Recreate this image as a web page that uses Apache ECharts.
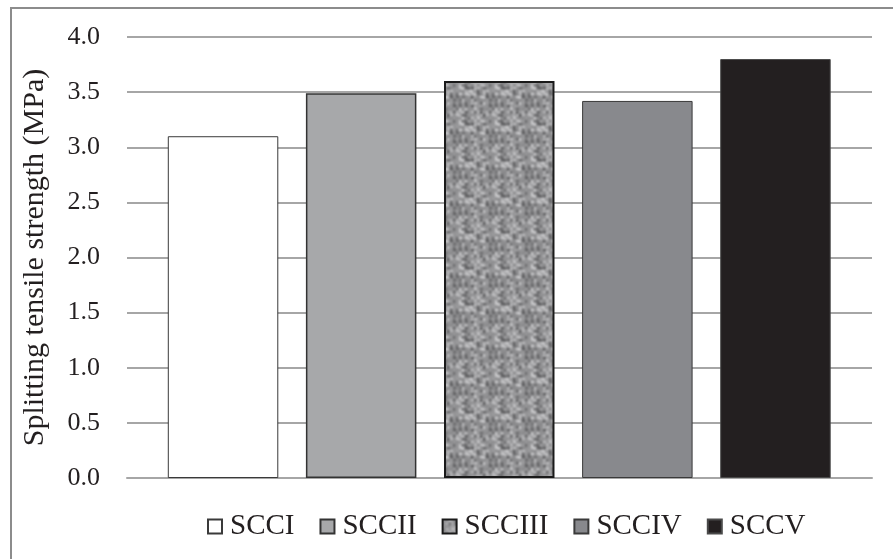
<!DOCTYPE html>
<html>
<head>
<meta charset="utf-8">
<script src="https://cdn.jsdelivr.net/npm/echarts@6/dist/echarts.min.js"></script>
<style>
  html, body { margin: 0; padding: 0; background: #fff; }
  #chart { width: 893px; height: 559px; }
</style>
</head>
<body>
<div id="chart"></div>
<script>
// Mixes and their splitting tensile strength (MPa)
var mixes = ['SCCI', 'SCCII', 'SCCIII', 'SCCIV', 'SCCV'];
var strength = [3.10, 3.49, 3.60, 3.42, 3.80];
var yTicks = [0, 0.5, 1.0, 1.5, 2.0, 2.5, 3.0, 3.5, 4.0];

var FONT = "'Liberation Serif', 'Times New Roman', serif";
var TEXT = '#231f20';

// Woven grey texture for the third mix (deterministic tile, softened)
function weaveTile() {
  var size = 36;
  var raw = document.createElement('canvas');
  raw.width = size; raw.height = size;
  var ctx = raw.getContext('2d');
  ctx.fillStyle = '#909092';
  ctx.fillRect(0, 0, size, size);
  var seed = 11;
  function next() { seed = (seed * 1103515245 + 12345) & 0x7fffffff; return seed / 0x7fffffff; }
  for (var y = 0; y < size; y += 3) {
    for (var x = 0; x < size; x += 3) {
      var v = next();
      var horiz = (((x / 3) | 0) + ((y / 3) | 0)) % 2 === 0;
      var shade;
      if (v < 0.25) shade = 80 + Math.floor(next() * 30);
      else if (v < 0.55) shade = 180 + Math.floor(next() * 35);
      else shade = 135 + Math.floor(next() * 25);
      ctx.fillStyle = 'rgb(' + shade + ',' + shade + ',' + (shade + 2) + ')';
      if (horiz) ctx.fillRect(x, y, 5, 2); else ctx.fillRect(x, y, 2, 5);
    }
  }
  // tile 3x3 then blur the centre so the edges wrap smoothly
  var big = document.createElement('canvas');
  big.width = size * 3; big.height = size * 3;
  var bctx = big.getContext('2d');
  for (var i = 0; i < 3; i++) for (var j = 0; j < 3; j++) bctx.drawImage(raw, i * size, j * size);
  var out = document.createElement('canvas');
  out.width = size; out.height = size;
  var octx = out.getContext('2d');
  octx.filter = 'blur(0.9px)';
  octx.drawImage(big, -size, -size);
  return out;
}

var fills = ['#ffffff', '#a7a8aa', { image: weaveTile(), repeat: 'repeat' }, '#88898d', '#231f20'];
var borders = ['#3a3a3a', '#333333', '#1a1a1a', '#3a3a3a', '#4a4a4a'];
var borderWidths = [1, 1.5, 2, 1, 1];

var series = mixes.map(function (name, i) {
  var data = mixes.map(function (_, j) { return j === i ? strength[i] : '-'; });
  return {
    name: name,
    type: 'bar',
    stack: 'mix',
    xAxisIndex: 1,
    yAxisIndex: 1,
    data: data,
    barCategoryGap: '20%',
    itemStyle: { color: fills[i], borderColor: borders[i], borderWidth: borderWidths[i] },
    emphasis: { disabled: true }
  };
});

var yRange = { min: yTicks[0], max: yTicks[yTicks.length - 1], interval: 0.5 };

var chart = echarts.init(document.getElementById('chart'), null, { renderer: 'canvas' });
chart.setOption({
  animation: false,
  backgroundColor: '#ffffff',
  graphic: [{
    type: 'rect',
    shape: { x: 11, y: 8, width: 920, height: 600 },
    style: { fill: 'none', stroke: '#8c8c8c', lineWidth: 2 },
    silent: true,
    z: -1
  }],
  grid: [
    // gridlines and value labels
    { left: 127, right: 21, top: 37, bottom: 81 },
    // bar placement
    { left: 154, right: 48.5, top: 37, bottom: 81 }
  ],
  legend: {
    left: 202,
    top: 507,
    itemWidth: 14,
    itemHeight: 14,
    itemGap: 25,
    icon: 'rect',
    textStyle: { fontFamily: FONT, fontSize: 29, color: TEXT, padding: [0, 0, 0, 3] },
    data: mixes
  },
  xAxis: [{
    gridIndex: 0,
    type: 'category',
    data: mixes,
    axisLine: { show: true, lineStyle: { color: '#a6a6a6', width: 2 } },
    axisTick: { show: false },
    axisLabel: { show: false },
    splitLine: { show: false }
  }, {
    gridIndex: 1,
    type: 'category',
    data: mixes,
    show: false
  }],
  yAxis: [{
    gridIndex: 0,
    type: 'value',
    min: yRange.min,
    max: yRange.max,
    interval: yRange.interval,
    name: 'Splitting tensile strength (MPa)',
    nameLocation: 'middle',
    nameGap: 77,
    nameRotate: 90,
    nameTextStyle: { fontFamily: FONT, fontSize: 30, color: TEXT },
    axisLine: { show: false },
    axisTick: { show: false },
    axisLabel: {
      margin: 27,
      fontFamily: FONT,
      fontSize: 26,
      color: TEXT,
      formatter: function (v) { return v.toFixed(1); }
    },
    splitLine: { lineStyle: { color: '#a6a6a6', width: 2 } }
  }, {
    gridIndex: 1,
    type: 'value',
    min: yRange.min,
    max: yRange.max,
    interval: yRange.interval,
    show: false,
    splitLine: { show: false }
  }],
  series: series
});
</script>
</body>
</html>
